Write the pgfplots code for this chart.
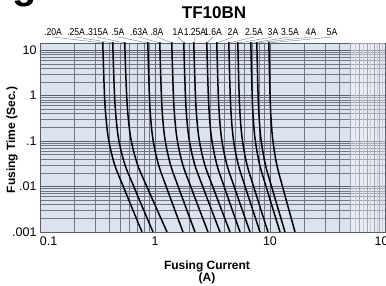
\documentclass[border=0pt]{standalone}
\usepackage{fontspec}
\setmainfont{Liberation Sans}
\newfontfamily\narrow[FakeStretch=0.86]{Liberation Sans}
\usepackage{pgfplots}
\usepackage{pgfplotstable}
\pgfplotsset{compat=1.18}
\definecolor{bgcol}{RGB}{221,227,238}
\definecolor{gridcol}{RGB}{88,94,110}
\pgfplotstableread{
t     c1    c2    c3    c4    c5    c6    c7    c8    c9    c10   c11   c12   c13   c14   c15
20    0.353 0.431 0.548 0.869 1.105 1.405 1.787 2.183 2.833 3.460 4.400 5.269 6.836 7.709 9.802
10    0.353 0.431 0.548 0.869 1.105 1.405 1.787 2.183 2.833 3.460 4.400 5.269 6.836 7.709 9.802
1     0.364 0.445 0.567 0.894 1.137 1.446 1.839 2.247 2.909 3.553 4.511 5.396 6.997 7.883 10.01
0.3   0.376 0.460 0.587 0.919 1.169 1.489 1.893 2.313 2.987 3.648 4.625 5.528 7.161 8.063 10.22
0.1   0.397 0.486 0.622 0.965 1.228 1.566 1.992 2.433 3.128 3.821 4.830 5.765 7.458 8.385 10.60
0.03  0.446 0.548 0.706 1.073 1.364 1.745 2.218 2.710 3.453 4.220 5.302 6.310 8.138 9.123 11.46
0.01  0.530 0.654 0.849 1.251 1.591 2.045 2.600 3.176 3.994 4.879 6.077 7.202 9.245 10.32 12.85
0.003 0.644 0.799 1.048 1.491 1.896 2.448 3.113 3.803 4.712 5.755 7.097 8.368 10.69 11.87 14.64
0.001 0.771 0.961 1.272 1.752 2.227 2.890 3.675 4.488 5.485 6.701 8.187 9.607 12.22 13.50 16.50
}\fusedata
\begin{document}
\begin{tikzpicture}[x=1pt,y=1pt]
\path[use as bounding box] (0,0) rectangle (386,285);
\begin{axis}[
  at={(40pt,53pt)}, anchor=south west,
  scale only axis, width=345pt, height=189pt,
  xmode=log, ymode=log,
  xmin=0.1, xmax=100, ymin=0.001, ymax=14.3,
  axis background/.style={fill=bgcol},
  axis line style={gridcol, line width=0.6pt},
  grid=both,
  major grid style={gridcol, line width=0.65pt},
  minor grid style={gridcol!85, line width=0.5pt},
  xtick={0.1,1,10,100},
  xticklabels={\makebox[0pt][l]{0.1},1,10,100},
  minor xtick={0.2,0.3,0.4,0.5,0.6,0.7,0.8,0.9,2,3,4,5,6,7,8,9,20,30,40,50,60,70,80,90},
  ytick={0.001,0.01,0.1,1,10},
  yticklabels={.001,.01,.1,1,10},
  minor ytick={0.002,0.003,0.004,0.005,0.006,0.007,0.008,0.009,0.02,0.03,0.04,0.05,0.06,0.07,0.08,0.09,0.2,0.3,0.4,0.5,0.6,0.7,0.8,0.9,2,3,4,5,6,7,8,9},
  extra x ticks={55,65,75,85,95},
  extra x tick labels={},
  extra x tick style={grid=major, major grid style={gridcol!50, line width=0.4pt}},
  tick style={draw=none},
  major tick length=0pt, minor tick length=0pt,
  /pgf/number format/assume math mode=true,
  ticklabel style={font=\fontsize{12.5}{12.5}\selectfont},
  xticklabel style={yshift=-1pt},
  clip=true,
]
\fill[white, opacity=0.35] (axis cs:50,0.001) rectangle (axis cs:100,14.3);
\foreach \c in {c1,c2,c3,c4,c5,c6,c7,c8,c9,c10,c11,c12,c13,c14,c15}{
  \addplot[black, line width=1.5pt, smooth, tension=0.55] table[x=\c, y=t] {\fusedata};
}
\end{axis}
% title and axis labels
\node[font=\bfseries\fontsize{17}{17}\selectfont] at (214,272) {TF10BN};
\node[font=\bfseries\fontsize{40}{40}\selectfont, anchor=base] at (25,287) {g};
\node[font=\bfseries\fontsize{12}{12}\selectfont, rotate=90] at (12,145) {Fusing Time (Sec.)};
\node[font=\bfseries\fontsize{12}{12}\selectfont] at (207,18.5) {Fusing Current};
\node[font=\bfseries\fontsize{12}{12}\selectfont] at (207,6.5) {(A)};
% fuse rating labels with leader lines
\foreach \lx/\tx/\txt in {53/103/.20A, 76/113/.25A, 97/125/.315A, 118/148/.5A, 139/160/.63A, 157/172/.8A, 178/184/1A, 195/194/1.25A, 213/207/1.6A, 233/217/2A, 254/229/2.5A, 273/238/3A, 290/251/3.5A, 311/257/4A, 332/269/5A}{
  \node[font=\narrow\fontsize{10}{10}\selectfont, inner sep=0pt] at (\lx,253) {\txt};
  \draw[gridcol!80, line width=0.4pt] (\lx,248) -- (\tx,242);
}
\end{tikzpicture}
\end{document}
